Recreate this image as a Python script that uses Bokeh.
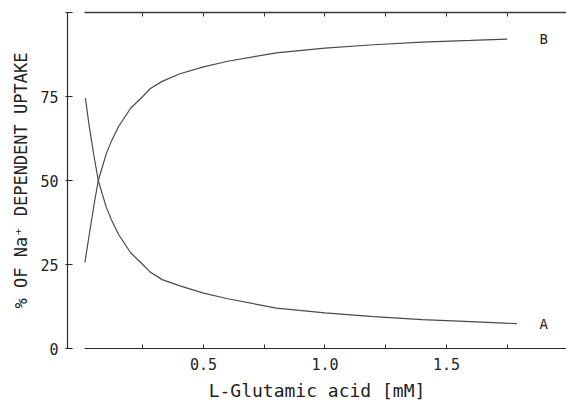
from bokeh.plotting import figure
from bokeh.models import Range1d, LinearAxis, FixedTicker
from bokeh.core.properties import value
from bokeh.embed import file_html
from bokeh.resources import INLINE

# Curve B (rising)
conc_B = [0.012, 0.03, 0.05, 0.067, 0.1, 0.12, 0.15, 0.2, 0.25, 0.28, 0.33, 0.4, 0.5, 0.6, 0.8, 1.0, 1.2, 1.4, 1.6, 1.75]
uptake_B = [25.6, 34.0, 43.0, 50.0, 58.0, 61.5, 66.0, 71.5, 75.0, 77.3, 79.5, 81.7, 83.8, 85.5, 88.0, 89.4, 90.4, 91.2, 91.7, 92.1]
# Curve A (falling)
conc_A = [0.014, 0.03, 0.05, 0.067, 0.1, 0.12, 0.15, 0.2, 0.25, 0.28, 0.33, 0.4, 0.5, 0.6, 0.8, 1.0, 1.2, 1.4, 1.6, 1.79]
uptake_A = [74.5, 66.0, 57.0, 50.0, 42.0, 38.5, 34.0, 28.5, 25.0, 22.8, 20.5, 18.7, 16.5, 14.8, 12.0, 10.6, 9.5, 8.6, 8.0, 7.4]

curve_labels = ["B", "A"]

x_ticks = [0.25, 0.5, 0.75, 1.0, 1.25, 1.5, 1.75]
x_tick_labels = {0.25: "", 0.5: "0.5", 0.75: "", 1.0: "1.0", 1.25: "", 1.5: "1.5", 1.75: ""}
y_ticks = [0, 25, 50, 75, 100]
y_tick_labels = {0: "0", 25: "25", 50: "50", 75: "75", 100: ""}

FONT = "DejaVu Sans Mono"
INK = "#2a2a2a"

p = figure(width=566, height=403, output_backend="svg", toolbar_location=None,
           x_range=Range1d(-0.0597, 1.994), y_range=Range1d(0, 100),
           x_axis_type=None, y_axis_type=None,
           min_border_left=67, min_border_right=0, min_border_top=12, min_border_bottom=54)
p.outline_line_color = None
p.xgrid.visible = False
p.ygrid.visible = False

xb = LinearAxis(ticker=FixedTicker(ticks=x_ticks), major_label_overrides=x_tick_labels,
                bounds=(0.01, 1.994))
xb.axis_label = "L-Glutamic acid [mM]"
xa = LinearAxis(ticker=FixedTicker(ticks=x_ticks), bounds=(0.01, 1.994))
yl = LinearAxis(ticker=FixedTicker(ticks=y_ticks), major_label_overrides=y_tick_labels,
                bounds=(0, 100))
yl.axis_label = "% OF Na⁺ DEPENDENT UPTAKE"

for ax in (xb, xa, yl):
    ax.axis_line_color = INK
    ax.axis_line_width = 1.2
    ax.major_tick_line_color = INK
    ax.minor_tick_line_color = None
    ax.major_label_text_font = FONT
    ax.major_label_text_font_size = "15px"
    ax.major_label_text_color = "#222222"
    ax.axis_label_text_font = FONT
    ax.axis_label_text_font_style = "normal"
    ax.axis_label_text_color = "#222222"

xb.major_tick_in = 4
xb.major_tick_out = 0
xb.major_label_standoff = 9
xb.axis_label_text_font_size = "18px"
xb.axis_label_standoff = 7

xa.major_tick_in = 4
xa.major_tick_out = 0
xa.major_label_standoff = 0
xa.major_label_text_font_size = "1px"
xa.major_label_text_color = None
xa.axis_line_color = "#3a3a3a"
xa.axis_line_width = 1.6
xa.major_tick_line_color = "#3a3a3a"

yl.major_tick_in = 5
yl.major_tick_out = 2
yl.major_label_standoff = 7
yl.axis_label_text_font_size = "17px"
yl.axis_label_standoff = 6

p.add_layout(xb, "below")
p.add_layout(xa, "above")
p.add_layout(yl, "left")

p.line(conc_B, uptake_B, line_color="#4a4a4a", line_width=1.2)
p.line(conc_A, uptake_A, line_color="#4a4a4a", line_width=1.2)

p.text(x=[1.9, 1.9], y=[uptake_B[-1], uptake_A[-1]], text=curve_labels,
       text_font=value(FONT), text_font_size="14px", text_color="#222222",
       text_align="center", text_baseline="middle")

open("out.html", "w").write(file_html(p, INLINE))
